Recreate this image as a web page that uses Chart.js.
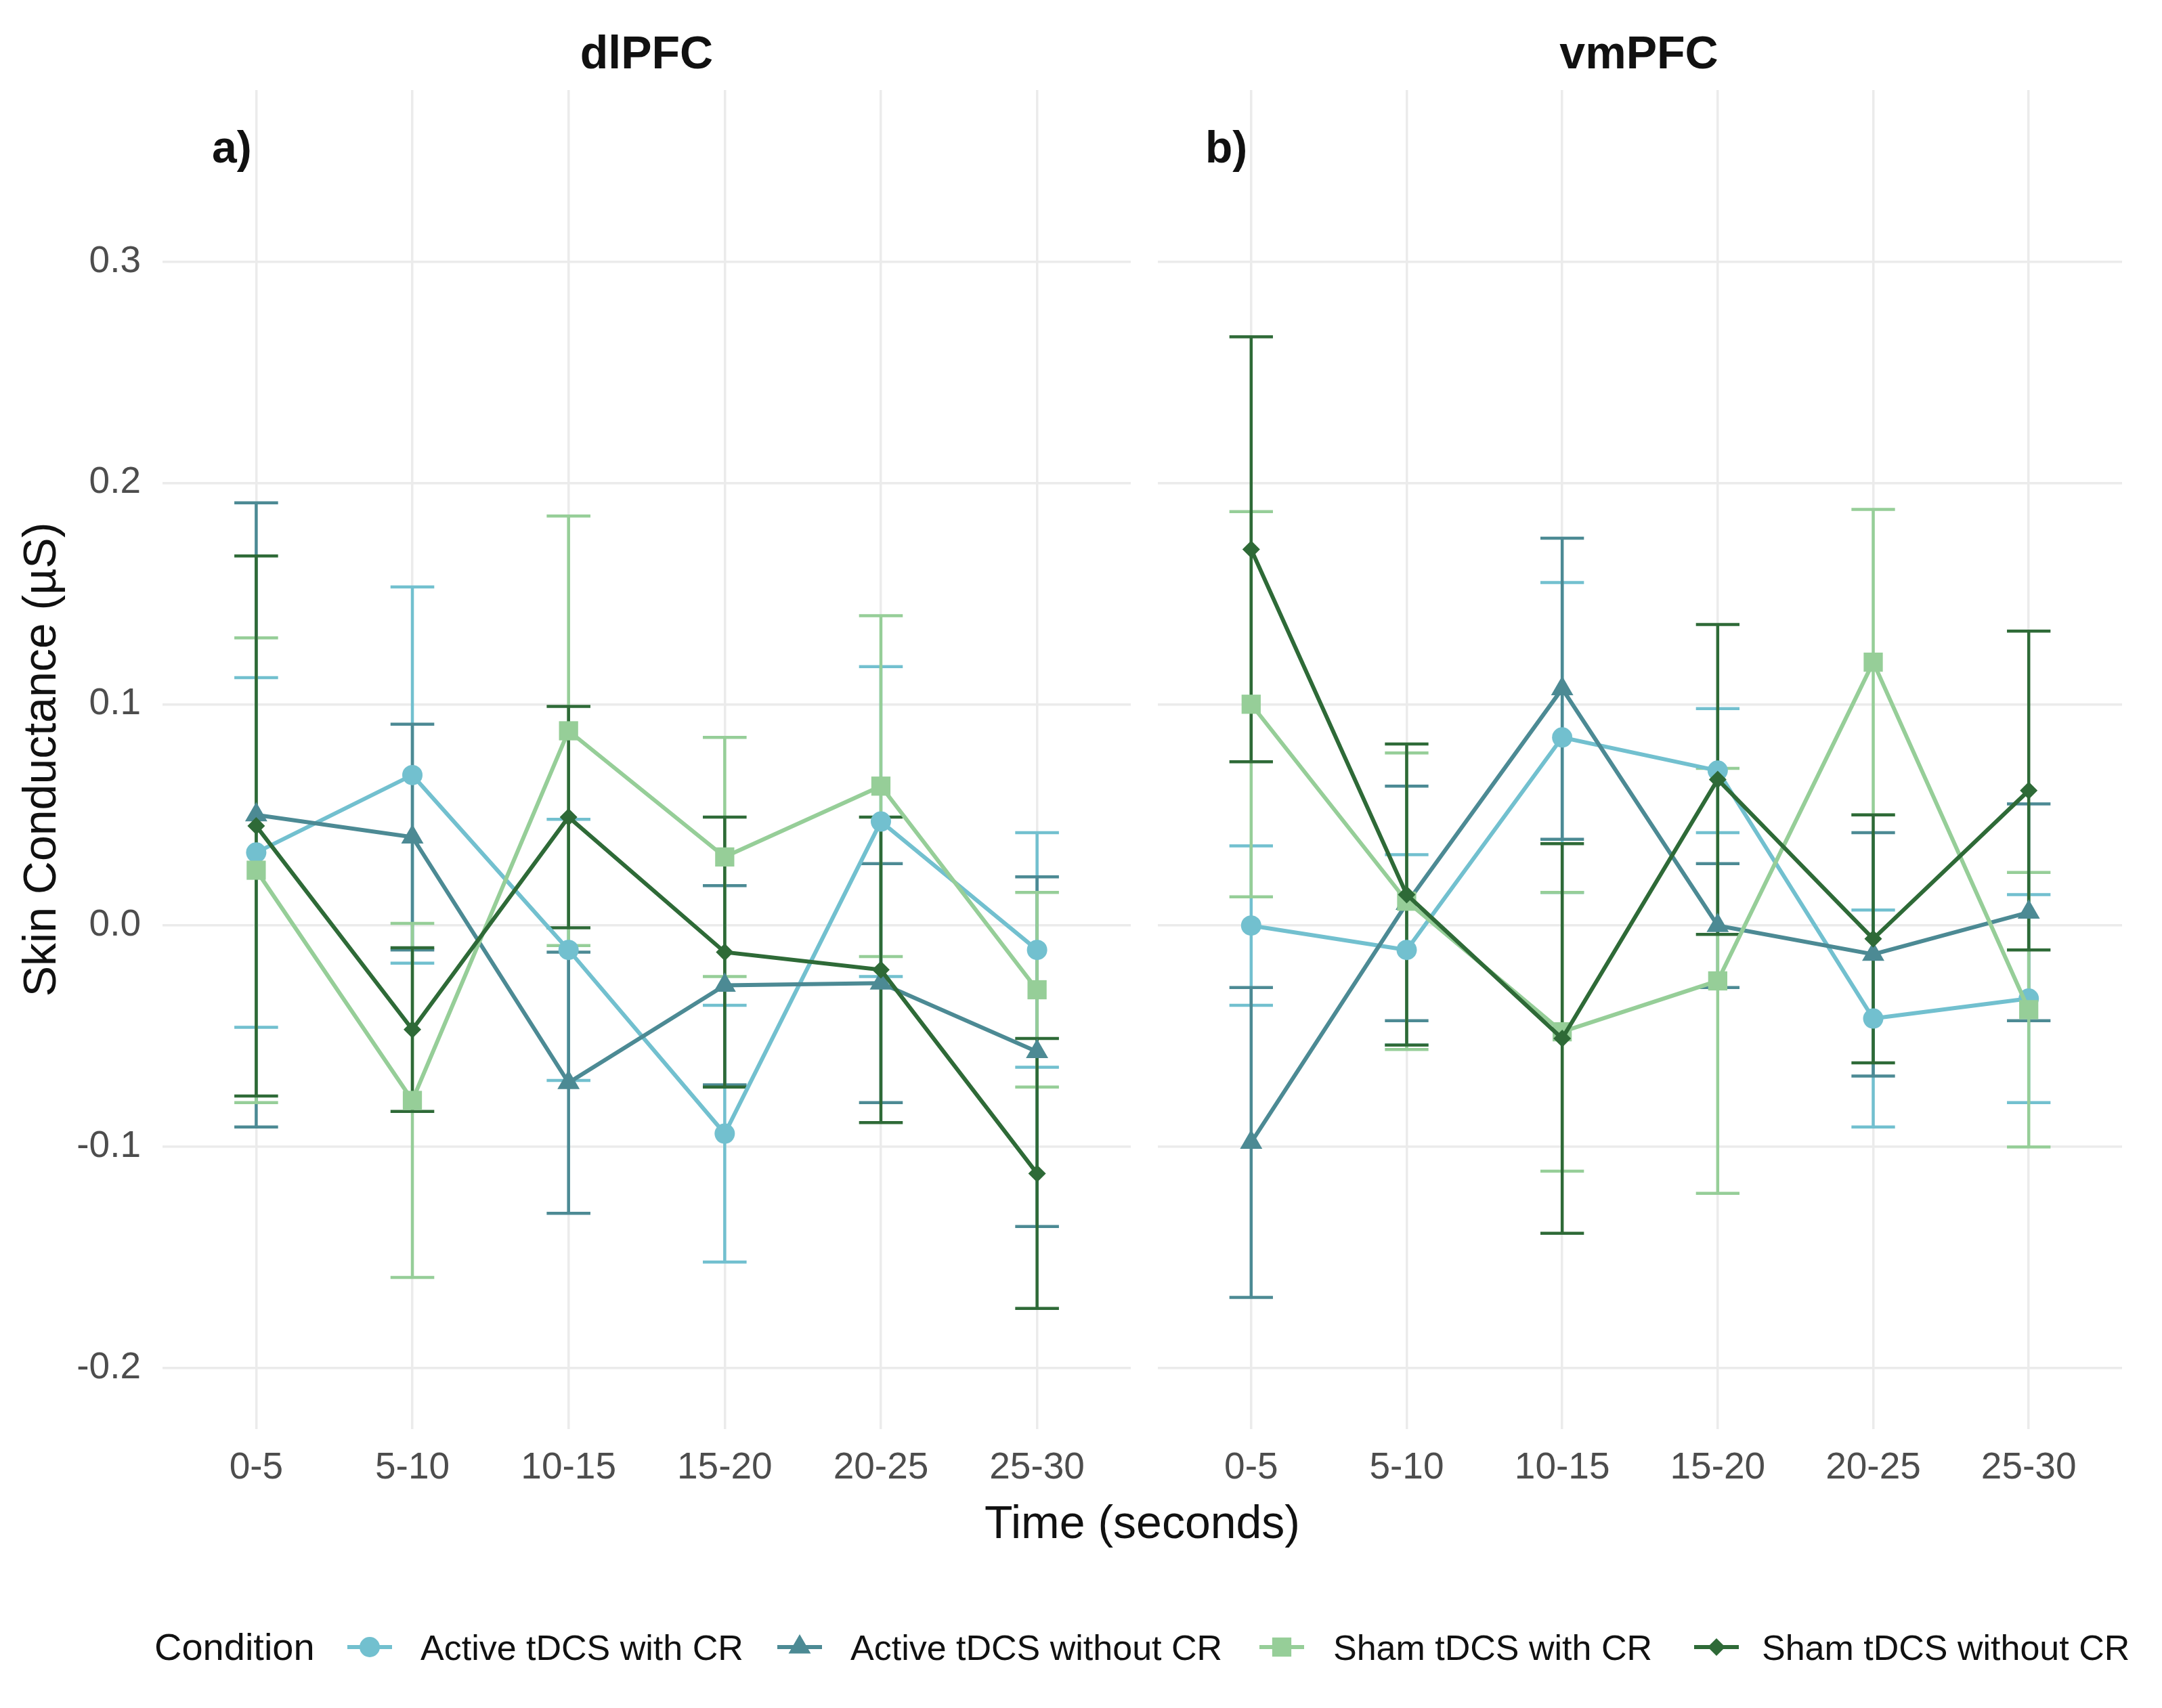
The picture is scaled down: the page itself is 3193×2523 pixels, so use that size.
<!DOCTYPE html>
<html>
<head>
<meta charset="utf-8">
<script src="https://cdn.jsdelivr.net/npm/chart.js@4.4.1/dist/chart.umd.min.js"></script>
<style>
  body { margin: 0; background: #fff; width: 3193px; height: 2523px; position: relative; overflow: hidden;
         font-family: "Liberation Sans", Arial, sans-serif; }
  canvas { position: absolute; }
  .t { position: absolute; line-height: 1; white-space: nowrap; color: #111; }
</style>
</head>
<body>
<canvas id="dl" width="1690" height="2240" style="left:0;top:0"></canvas>
<canvas id="vm" width="1503" height="2240" style="left:1690px;top:0"></canvas>

<div class="t" style="left:240px;width:1430px;text-align:center;top:43px;font-size:68px;font-weight:bold">dlPFC</div>
<div class="t" style="left:1707px;width:1427px;text-align:center;top:43px;font-size:68px;font-weight:bold">vmPFC</div>
<div class="t" style="left:313px;top:184px;font-size:66px;font-weight:bold">a)</div>
<div class="t" style="left:1780px;top:184px;font-size:66px;font-weight:bold">b)</div>
<div class="t" style="left:240px;width:2894px;text-align:center;top:2214px;font-size:68px">Time (seconds)</div>

<div id="legend"></div>

<script>
const timeBins = ['0-5', '5-10', '10-15', '15-20', '20-25', '25-30'];
const yTicks = [-0.2, -0.1, 0.0, 0.1, 0.2, 0.3];
const conditions = ['Active tDCS with CR', 'Active tDCS without CR', 'Sham tDCS with CR', 'Sham tDCS without CR'];
const colors = ['#72c0cf', '#4c8a94', '#96ce98', '#2e6a37'];
const shapes = ['circle', 'triangle', 'rect', 'rectRot'];
const sizes = [15, 19, 20, 13];

// dlPFC means and error half-widths
const dlActiveCR   = [0.033, 0.068, -0.011, -0.094, 0.047, -0.011];
const dlActiveNoCR = [0.050, 0.040, -0.071, -0.027, -0.026, -0.057];
const dlShamCR     = [0.025, -0.079, 0.088, 0.031, 0.063, -0.029];
const dlShamNoCR   = [0.045, -0.047, 0.049, -0.012, -0.020, -0.112];
const dlActiveCRErr   = [0.079, 0.085, 0.059, 0.058, 0.070, 0.053];
const dlActiveNoCRErr = [0.141, 0.051, 0.059, 0.045, 0.054, 0.079];
const dlShamCRErr     = [0.105, 0.080, 0.097, 0.054, 0.077, 0.044];
const dlShamNoCRErr   = [0.122, 0.037, 0.050, 0.061, 0.069, 0.061];

// vmPFC means and error half-widths
const vmActiveCR   = [0.000, -0.011, 0.085, 0.070, -0.042, -0.033];
const vmActiveNoCR = [-0.098, 0.010, 0.107, 0.000, -0.013, 0.006];
const vmShamCR     = [0.100, 0.011, -0.048, -0.025, 0.119, -0.038];
const vmShamNoCR   = [0.170, 0.014, -0.051, 0.066, -0.006, 0.061];
const vmActiveCRErr   = [0.036, 0.043, 0.070, 0.028, 0.049, 0.047];
const vmActiveNoCRErr = [0.070, 0.053, 0.068, 0.028, 0.055, 0.049];
const vmShamCRErr     = [0.087, 0.067, 0.063, 0.096, 0.069, 0.062];
const vmShamNoCRErr   = [0.096, 0.068, 0.088, 0.070, 0.056, 0.072];

Chart.defaults.font.family = "'Liberation Sans', Arial, sans-serif";

// error bars drawn from each dataset's errors through the chart scales
const errorBars = {
  id: 'errorBars',
  beforeDatasetsDraw(chart) {
    const { ctx, scales: { x, y } } = chart;
    const half = Math.abs(x.getPixelForValue(0.14) - x.getPixelForValue(0));
    ctx.save();
    ctx.lineWidth = 4.5;
    chart.data.datasets.forEach(ds => {
      ctx.strokeStyle = ds.borderColor;
      ds.data.forEach((p, i) => {
        const e = ds.errors[i];
        const px = x.getPixelForValue(p.x);
        const hi = y.getPixelForValue(p.y + e);
        const lo = y.getPixelForValue(p.y - e);
        ctx.beginPath();
        ctx.moveTo(px, hi); ctx.lineTo(px, lo);
        ctx.moveTo(px - half, hi); ctx.lineTo(px + half, hi);
        ctx.moveTo(px - half, lo); ctx.lineTo(px + half, lo);
        ctx.stroke();
      });
    });
    ctx.restore();
  }
};

function makeDatasets(means, errs) {
  return means.map((m, k) => ({
    label: conditions[k],
    data: m.map((v, i) => ({ x: i, y: v })),
    errors: errs[k],
    borderColor: colors[k],
    backgroundColor: colors[k],
    borderWidth: 6,
    tension: 0,
    pointStyle: shapes[k],
    pointRadius: sizes[k],
    pointHoverRadius: sizes[k],
    pointBorderWidth: 0,
    pointBackgroundColor: colors[k],
    order: 3 - k
  }));
}

function panel(id, means, errs, showY) {
  return new Chart(document.getElementById(id), {
    type: 'line',
    data: { datasets: makeDatasets(means, errs) },
    plugins: [errorBars],
    options: {
      responsive: false,
      animation: false,
      devicePixelRatio: 1,
      layout: { padding: { top: 133, right: showY ? 20 : 59, left: 0, bottom: 0 } },
      plugins: { legend: { display: false }, tooltip: { enabled: false } },
      scales: {
        x: {
          type: 'linear',
          min: -0.6, max: 5.6,
          afterBuildTicks: s => { s.ticks = timeBins.map((_, i) => ({ value: i })); },
          afterFit: s => { s.height = 129; },
          grid: { color: '#ebebeb', lineWidth: 3.5, drawTicks: false },
          border: { display: false },
          ticks: {
            autoSkip: false, maxRotation: 0, padding: 25,
            color: '#4d4d4d', font: { size: 55 },
            callback: v => timeBins[v]
          }
        },
        y: {
          min: -0.2275, max: 0.3775,
          afterBuildTicks: s => { s.ticks = yTicks.map(v => ({ value: v })); },
          afterFit: s => { s.width = showY ? 240 : 17; },
          grid: { color: '#ebebeb', lineWidth: 3.5, drawTicks: false },
          border: { display: false },
          ticks: {
            display: showY, padding: 32,
            color: '#4d4d4d', font: { size: 55 },
            callback: v => v.toFixed(1)
          },
          title: {
            display: showY,
            text: 'Skin Conductance (µS)',
            color: '#111',
            font: { size: 68 },
            padding: { top: 22, bottom: 0 }
          }
        }
      }
    }
  });
}

panel('dl', [dlActiveCR, dlActiveNoCR, dlShamCR, dlShamNoCR],
  [dlActiveCRErr, dlActiveNoCRErr, dlShamCRErr, dlShamNoCRErr], true);
panel('vm', [vmActiveCR, vmActiveNoCR, vmShamCR, vmShamNoCR],
  [vmActiveCRErr, vmActiveNoCRErr, vmShamCRErr, vmShamNoCRErr], false);

// shared legend at the bottom
const legend = document.getElementById('legend');
const keyX = [546, 1181, 1893, 2535];
const labelX = [621, 1256, 1969, 2602];
const legendY = 2433;

const title = document.createElement('div');
title.className = 't';
title.style.cssText = 'left:228px;top:2405px;font-size:56px';
title.textContent = 'Condition';
legend.appendChild(title);

conditions.forEach((name, k) => {
  const c = document.createElement('canvas');
  c.width = 90; c.height = 60;
  c.style.left = (keyX[k] - 45) + 'px';
  c.style.top = (legendY - 30) + 'px';
  legend.appendChild(c);
  const g = c.getContext('2d');
  g.strokeStyle = colors[k]; g.fillStyle = colors[k]; g.lineWidth = 6;
  g.beginPath(); g.moveTo(12, 30); g.lineTo(78, 30); g.stroke();
  if (Chart.helpers && Chart.helpers.drawPoint) {
    Chart.helpers.drawPoint(g, { pointStyle: shapes[k], radius: sizes[k], rotation: 0, borderWidth: 0 }, 45, 30);
  } else {
    g.beginPath(); g.arc(45, 30, sizes[k] * 0.8, 0, Math.PI * 2); g.fill();
  }
  const lab = document.createElement('div');
  lab.className = 't';
  lab.style.cssText = `left:${labelX[k]}px;top:2408px;font-size:52px`;
  lab.textContent = name;
  legend.appendChild(lab);
});
</script>
</body>
</html>
